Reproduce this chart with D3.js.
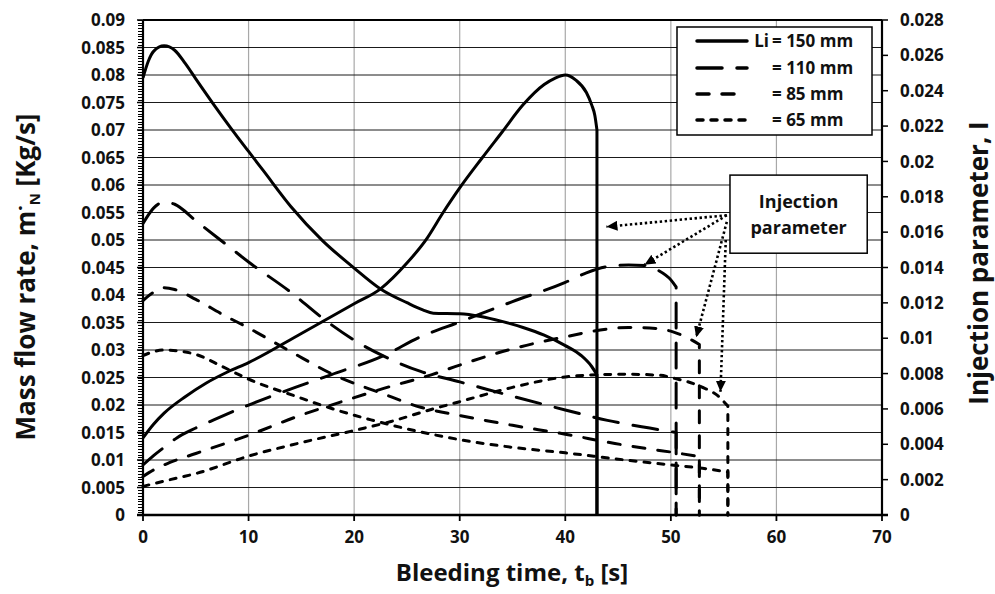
<!DOCTYPE html>
<html>
<head>
<meta charset="utf-8">
<script src="https://cdn.jsdelivr.net/npm/d3@7"></script>
<style>
  html, body { margin: 0; padding: 0; background: #fff; }
  svg { display: block; }
  text { font-family: "Open Sans", sans-serif; font-weight: 700; fill: #111; }
</style>
</head>
<body>
<svg id="chart" width="995" height="594"></svg>
<script>
// Axis ticks
const timeTicks = [0, 10, 20, 30, 40, 50, 60, 70];
const massTicks = [0, 0.005, 0.01, 0.015, 0.02, 0.025, 0.03, 0.035, 0.04, 0.045,
                   0.05, 0.055, 0.06, 0.065, 0.07, 0.075, 0.08, 0.085, 0.09];
const paramTicks = [0, 0.002, 0.004, 0.006, 0.008, 0.01, 0.012, 0.014,
                    0.016, 0.018, 0.02, 0.022, 0.024, 0.026, 0.028];

// Legend entries (injector length Li)
const lengthLabels = ["= 150 mm", "= 110 mm", "= 85 mm", "= 65 mm"];

// Mass flow rate [kg/s] vs bleeding time [s]  (left axis)
const mass150 = [[0,0.0795],[0.5,0.0825],[1,0.0843],[2,0.0853],[3,0.0845],[4,0.0821],[5,0.0793],
  [6.6,0.0749],[8.3,0.0704],[10,0.0661],[11.4,0.0626],[14,0.0561],[17,0.0499],[20,0.0449],
  [22.5,0.0411],[25,0.0386],[26.5,0.0373],[27.5,0.0367],[30,0.0366],[32,0.0361],[34,0.0352],
  [36,0.0341],[38,0.0327],[40,0.0308],[41.5,0.029],[42.5,0.027],[43,0.0255]];
const mass110 = [[0,0.053],[1,0.0558],[2,0.0569],[3,0.0565],[5,0.0535],[8,0.049],[10,0.046],
  [14,0.0405],[17,0.0358],[20,0.0318],[23,0.0287],[26.3,0.0261],[30,0.0242],[35,0.0216],
  [40,0.0191],[44,0.0172],[48,0.0158],[50.5,0.015]];
const mass85 = [[0,0.039],[1,0.0405],[2,0.0413],[3,0.041],[5,0.0392],[7.5,0.0365],[10,0.034],
  [14,0.0297],[18.4,0.0252],[22.5,0.0222],[26.3,0.0196],[30,0.0181],[35,0.0163],[40,0.0147],
  [44.7,0.013],[48,0.012],[50.5,0.0113],[52.7,0.0106]];
const mass65 = [[0,0.029],[1,0.0297],[2,0.03],[3.5,0.0298],[5,0.0292],[7.5,0.027],[10,0.0247],
  [14.6,0.0215],[17.8,0.0194],[21.6,0.0173],[26.3,0.0151],[30,0.0137],[35,0.0123],[40,0.0113],
  [45.7,0.01],[50,0.0091],[53,0.0085],[55.4,0.0078]];

// Injection parameter I vs bleeding time [s]  (right axis)
const param150 = [[0,0.00436],[1,0.00513],[2,0.00576],[4,0.00669],[6,0.00747],[8,0.00809],
  [10,0.00862],[15,0.01027],[20,0.01195],[22.5,0.01279],[25,0.01425],[26.8,0.01556],
  [28.4,0.01708],[30,0.0185],[32.1,0.02018],[34,0.02165],[36,0.0232],[38,0.02435],
  [39,0.0247],[40,0.02489],[41,0.0246],[42,0.0239],[42.5,0.0232],[42.8,0.0226],[43,0.02178]];
const param110 = [[0,0.00283],[1,0.00336],[2,0.00383],[3.2,0.00436],[5,0.00492],[6.7,0.00538],
  [10,0.00622],[13,0.00691],[17.8,0.00793],[22.8,0.00902],[26.3,0.01008],[30,0.01092],
  [35,0.01207],[40,0.01316],[42,0.0137],[44,0.01405],[46,0.01414],[47.5,0.01412],
  [48.8,0.01384],[50,0.0133],[50.5,0.0129]];
const param85 = [[0,0.00218],[1,0.00255],[2.5,0.00296],[5,0.00348],[10,0.00451],[14.6,0.00557],
  [19.3,0.0065],[22.8,0.00716],[27.3,0.00793],[30,0.00848],[35,0.0094],[40,0.01008],
  [44,0.01052],[46,0.01061],[48,0.01058],[50.2,0.01036],[52,0.00989],[52.7,0.00964]];
const param65 = [[0,0.00162],[2.5,0.00199],[5.1,0.00236],[10,0.00333],[14.6,0.00404],
  [20.3,0.00482],[23.5,0.00529],[27.3,0.00597],[30,0.00641],[35,0.00722],[40,0.00781],
  [43,0.00793],[46,0.00796],[49,0.0079],[50.2,0.00775],[52.9,0.00725],[54.5,0.00672],
  [55.4,0.00616]];

const massSeries = [mass150, mass110, mass85, mass65];
const paramSeries = [param150, param110, param85, param65];

// Callout: box corners and arrow tips, in (time, mass-flow) units
const calloutBox = [[55.6, 0.0618], [68.6, 0.0476]];
const calloutStarts = [[55.3, 0.0545], [55.3, 0.0545], [55.3, 0.0533], [55.2, 0.050]];
const calloutTips = [[43.9, 0.0524], [47.5, 0.0455], [52.4, 0.0323], [54.7, 0.0224]];

// Line styles per injector length
const dashStyles = [null, "25,15", "12,13", "6,8"];

const svg = d3.select("#chart");
const x = d3.scaleLinear().domain([0, 70]).range([143, 882]);
const yL = d3.scaleLinear().domain([0, 0.09]).range([515, 20]);
const yR = d3.scaleLinear().domain([0, 0.028]).range([515, 20]);

const fmt = v => v === 0 ? "0" : String(+v.toFixed(3));

// Grid
const grid = svg.append("g");
grid.selectAll("line.v").data(timeTicks.slice(1, -1)).join("line")
  .attr("x1", d => x(d)).attr("x2", d => x(d))
  .attr("y1", yL(0)).attr("y2", yL(0.09))
  .attr("stroke", "#a8a8a8").attr("stroke-width", 1.2);
grid.selectAll("line.h").data(massTicks.slice(1, -1)).join("line")
  .attr("x1", x(0)).attr("x2", x(70))
  .attr("y1", d => yL(d)).attr("y2", d => yL(d))
  .attr("stroke", "#1a1a1a").attr("stroke-width", 1);

// Curves, each ending in a vertical drop to zero
function curvePath(pts, y) {
  const gen = d3.line().x(d => x(d[0])).y(d => y(d[1])).curve(d3.curveMonotoneX);
  const last = pts[pts.length - 1];
  return gen(pts) + `L${x(last[0])},${y(0)}`;
}
const curves = svg.append("g").attr("fill", "none").attr("stroke", "#000")
  .attr("stroke-width", 3).attr("stroke-linejoin", "round");
massSeries.forEach((s, i) => {
  curves.append("path").attr("d", curvePath(s, yL))
    .attr("stroke-dasharray", dashStyles[i]).attr("stroke-linecap", i === 0 ? "butt" : "round");
});
paramSeries.forEach((s, i) => {
  curves.append("path").attr("d", curvePath(s, yR))
    .attr("stroke-dasharray", dashStyles[i]).attr("stroke-linecap", i === 0 ? "butt" : "round");
});

// Frame and axes
const frame = svg.append("g").attr("stroke", "#000");
frame.append("line").attr("x1", x(0)).attr("x2", x(70)).attr("y1", yL(0.09)).attr("y2", yL(0.09)).attr("stroke-width", 2);
frame.append("line").attr("x1", x(0)).attr("x2", x(0)).attr("y1", yL(0.09)).attr("y2", yL(0)).attr("stroke-width", 2.2);
frame.append("line").attr("x1", x(70)).attr("x2", x(70)).attr("y1", yL(0.09)).attr("y2", yL(0)).attr("stroke-width", 2.2);
frame.append("line").attr("x1", x(0) - 6).attr("x2", x(70) + 6).attr("y1", yL(0)).attr("y2", yL(0)).attr("stroke-width", 2.6);

// Left axis minor ticks (every 0.0005)
const minorMass = d3.range(0, 181).map(i => i * 0.0005);
frame.selectAll("line.mn").data(minorMass).join("line")
  .attr("x1", x(0) - 5).attr("x2", x(0))
  .attr("y1", d => Math.round(yL(d)) + 0.5).attr("y2", d => Math.round(yL(d)) + 0.5)
  .attr("stroke-width", 1);
frame.selectAll("line.mj").data(massTicks).join("line")
  .attr("x1", x(0) - 6).attr("x2", x(0))
  .attr("y1", d => yL(d)).attr("y2", d => yL(d)).attr("stroke-width", 1.5);
// Right axis ticks
frame.selectAll("line.rt").data(paramTicks).join("line")
  .attr("x1", x(70)).attr("x2", x(70) + 6)
  .attr("y1", d => yR(d)).attr("y2", d => yR(d)).attr("stroke-width", 1.5);
// Bottom axis ticks
frame.selectAll("line.bt").data(timeTicks).join("line")
  .attr("x1", d => x(d)).attr("x2", d => x(d))
  .attr("y1", yL(0)).attr("y2", yL(0) + 6).attr("stroke-width", 1.8);

// Tick labels
const labels = svg.append("g").style("font-size", "17px");
labels.selectAll("text.l").data(massTicks).join("text")
  .attr("x", 125).attr("y", d => yL(d)).attr("dy", "0.36em")
  .attr("text-anchor", "end").text(fmt);
labels.selectAll("text.r").data(paramTicks).join("text")
  .attr("x", 900).attr("y", d => yR(d)).attr("dy", "0.36em")
  .attr("text-anchor", "start").text(fmt);
labels.selectAll("text.b").data(timeTicks).join("text")
  .attr("x", d => x(d)).attr("y", 543)
  .attr("text-anchor", "middle").text(d => d);

// Axis titles
const leftTitle = svg.append("text").attr("transform", "translate(35,277) rotate(-90)")
  .attr("text-anchor", "middle").style("font-size", "26px");
leftTitle.append("tspan").text("Mass flow rate, m");
leftTitle.append("tspan").text("˙").style("font-size", "22px");
leftTitle.append("tspan").text("N").style("font-size", "15px").attr("dy", 5);
leftTitle.append("tspan").text(" [Kg/s]").attr("dy", -5);

svg.append("text").attr("transform", "translate(988,263) rotate(-90)")
  .attr("text-anchor", "middle").style("font-size", "26px")
  .text("Injection parameter, I");

const bottomTitle = svg.append("text").attr("x", 512).attr("y", 581)
  .attr("text-anchor", "middle").style("font-size", "24px");
bottomTitle.append("tspan").text("Bleeding time, t");
bottomTitle.append("tspan").text("b").style("font-size", "15px").attr("dy", 5);
bottomTitle.append("tspan").text(" [s]").attr("dy", -5);

// Legend
const legend = svg.append("g");
legend.append("rect").attr("x", 677).attr("y", 27).attr("width", 195).attr("height", 108)
  .attr("fill", "#fff").attr("stroke", "#000").attr("stroke-width", 1.5);
const rowY = [41, 68, 94, 120];
lengthLabels.forEach((lab, i) => {
  legend.append("line").attr("x1", 697).attr("x2", 747).attr("y1", rowY[i]).attr("y2", rowY[i])
    .attr("stroke", "#000").attr("stroke-width", 3.5)
    .attr("stroke-dasharray", dashStyles[i]).attr("stroke-linecap", "round");
  legend.append("text").attr("x", 772).attr("y", rowY[i]).attr("dy", "0.36em")
    .style("font-size", "17px").text(lab);
});
legend.append("text").attr("x", 769).attr("y", rowY[0]).attr("dy", "0.36em")
  .attr("text-anchor", "end").style("font-size", "17px").text("Li");

// Callout box with dotted arrows
const defs = svg.append("defs");
defs.append("marker").attr("id", "tip").attr("markerUnits", "userSpaceOnUse")
  .attr("markerWidth", 12).attr("markerHeight", 10).attr("refX", 11).attr("refY", 5)
  .attr("orient", "auto")
  .append("path").attr("d", "M0,0 L11,5 L0,10 Z").attr("fill", "#000");

const bx0 = x(calloutBox[0][0]), bx1 = x(calloutBox[1][0]);
const by0 = yL(calloutBox[0][1]), by1 = yL(calloutBox[1][1]);
calloutStarts.forEach((s, i) => {
  svg.append("line")
    .attr("x1", x(s[0])).attr("y1", yL(s[1]))
    .attr("x2", x(calloutTips[i][0])).attr("y2", yL(calloutTips[i][1]))
    .attr("stroke", "#000").attr("stroke-width", 2.6)
    .attr("stroke-dasharray", "2.4,2.6").attr("marker-end", "url(#tip)");
});
svg.append("rect").attr("x", bx0).attr("y", by0).attr("width", bx1 - bx0).attr("height", by1 - by0)
  .attr("fill", "#fff").attr("stroke", "#000").attr("stroke-width", 1.5);
const cx = (bx0 + bx1) / 2;
svg.append("text").attr("x", cx).attr("y", by0 + 33).attr("text-anchor", "middle")
  .style("font-size", "18px").text("Injection");
svg.append("text").attr("x", cx).attr("y", by0 + 59).attr("text-anchor", "middle")
  .style("font-size", "18px").text("parameter");
</script>
</body>
</html>
